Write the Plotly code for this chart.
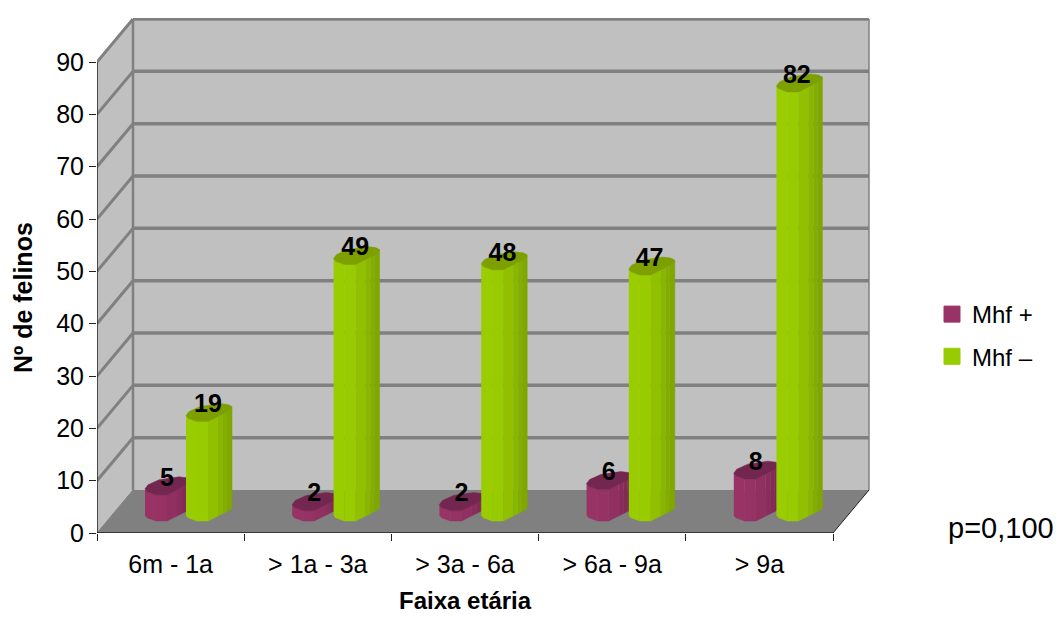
import numpy as np
import plotly.graph_objects as go

# Data
categories = ["6m - 1a", "> 1a - 3a", "> 3a - 6a", "> 6a - 9a", "> 9a"]
mhf_pos = [5, 2, 2, 6, 8]
mhf_neg = [19, 49, 48, 47, 82]
y_ticks = [0, 10, 20, 30, 40, 50, 60, 70, 80, 90]

# Pixel scales of the front plane
WIDTH, HEIGHT = 1056, 617
LEFT, RIGHT, TOP, BOTTOM = 97, 870, 18, 533
PX_PER_CAT = 147.2
PX_PER_UNIT = 5.233
X_MIN = -0.5
X_MAX = X_MIN + (RIGHT - LEFT) / PX_PER_CAT
Y_MAX = (BOTTOM - TOP) / PX_PER_UNIT
n = len(categories)

def ux(px):
    return px / PX_PER_CAT

def uy(px):
    return px / PX_PER_UNIT

# Oblique depth of the box
DX, DY = ux(36), uy(43)

# Column cross-section, in pixels from its left edge / lowest point
FRONT = [(0, 6), (2, 3.3), (11, 0), (22, 0), (44, 11), (46, 13)]
BACK = [(46, 15), (42, 17), (34, 18), (14, 15), (3, 10), (0, 6)]
STRIP_EDGES = [0, 11, 22, 32, 37, 41, 46]
BASE = uy(12)
front_x = [p[0] for p in FRONT]
front_y = [p[1] for p in FRONT]

def strip_polys(values, left_px, i0, i1, nudge):
    xs, ys = [], []
    a, b = STRIP_EDGES[i0], STRIP_EDGES[i1]
    pts = sorted({a, b, *[p for p in front_x if a < p < b]})
    low = [float(np.interp(p, front_x, front_y)) for p in pts]
    for c, v in enumerate(values):
        xs += [c + ux(left_px + c * nudge + p) for p in pts]
        ys += [BASE + uy(h) for h in low]
        xs += [c + ux(left_px + c * nudge + p) for p in reversed(pts)]
        ys += [BASE + v + uy(h) for h in reversed(low)]
        xs.append(None)
        ys.append(None)
    return xs, ys

def cap_polys(values, left_px, nudge):
    xs, ys = [], []
    for c, v in enumerate(values):
        for p, h in FRONT + BACK:
            xs.append(c + ux(left_px + c * nudge + p))
            ys.append(BASE + v + uy(h))
        xs.append(None)
        ys.append(None)
    return xs, ys

fig = go.Figure()

def add_series(name, values, left_px, nudge, strips, cap, swatch):
    for i, col in enumerate(strips):
        sx, sy = strip_polys(values, left_px, i, i + 1, nudge)
        fig.add_trace(go.Scatter(x=sx, y=sy, mode="lines", fill="toself", fillcolor=col,
                                 line=dict(color=col, width=0.5), hoverinfo="skip", showlegend=False))
    cx, cy = cap_polys(values, left_px, nudge)
    fig.add_trace(go.Scatter(x=cx, y=cy, mode="lines", fill="toself", fillcolor=cap,
                             line=dict(color=cap, width=0.5), hoverinfo="skip", showlegend=False))
    fig.add_trace(go.Scatter(x=[None], y=[None], mode="markers", name=name, legendgroup=name,
                             marker=dict(symbol="square", size=18, color=swatch,
                                         line=dict(color=swatch, width=1))))

PURPLE_LEFT, GREEN_LEFT = -25.6, 15.4
add_series("Mhf +", mhf_pos, PURPLE_LEFT, 0,
           ["#993366", "#973265", "#902F60", "#8A2D5C", "#822B57", "#7B2852"],
           "#732650", "#993366")
add_series("Mhf –", mhf_neg, GREEN_LEFT, 0.4,
           ["#9ACD00", "#99CC00", "#90C000", "#89B600", "#83AE00", "#7EA700"],
           "#7D9F00", "#99CC00")

# Value labels above each column
LABEL_LIFT = uy(15.5)
for values, left_px in ((mhf_pos, PURPLE_LEFT), (mhf_neg, GREEN_LEFT)):
    fig.add_trace(go.Scatter(
        x=[c + ux(left_px + 22) for c in range(n)],
        y=[BASE + v + LABEL_LIFT for v in values],
        mode="text", text=[str(v) for v in values], textposition="middle center",
        textfont=dict(family="Liberation Sans", size=25, color="black"),
        texttemplate="<b>%{text}</b>", hoverinfo="skip", showlegend=False, cliponaxis=False))

# Box walls, floor and gridlines
GRID = "#808080"
WALL = "#C0C0C0"
x0, x1 = X_MIN, X_MIN + n
shapes = []

def poly(pts, fill):
    d = "M " + " L ".join(f"{x},{y}" for x, y in pts) + " Z"
    shapes.append(dict(type="path", path=d, xref="x", yref="y", fillcolor=fill,
                       line=dict(width=0), layer="below"))

def seg(xa, ya, xb, yb, color, width):
    shapes.append(dict(type="line", x0=xa, y0=ya, x1=xb, y1=yb, xref="x", yref="y",
                       line=dict(color=color, width=width), layer="below"))

top = y_ticks[-1]
poly([(x0 + DX, DY), (x1 + DX, DY), (x1 + DX, top + DY), (x0 + DX, top + DY)], WALL)
poly([(x0, 0), (x0 + DX, DY), (x0 + DX, top + DY), (x0, top)], WALL)
poly([(x0, 0), (x1, 0), (x1 + DX, DY), (x0 + DX, DY)], GRID)
for t in y_ticks[1:]:
    seg(x0, t, x0 + DX, t + DY, GRID, 3)
    seg(x0 + DX, t + DY, x1 + DX, t + DY, GRID, 3.5)
seg(x0 + DX, DY, x0 + DX, top + DY, GRID, 2.5)
seg(x1 + DX, DY, x1 + DX, top + DY, GRID, 1.5)
seg(x1, 0, x1 + DX, DY, "#222222", 1)
seg(x0, 0, x0 + DX, DY, GRID, 1)
seg(x0, 0, x0, top, "#222222", 1.5)
seg(x0, 0, x1, 0, "#222222", 1.5)

def px_x(px):
    return (px - LEFT) / (RIGHT - LEFT)

def px_y(py):
    return (BOTTOM - py) / (BOTTOM - TOP)

fig.update_layout(
    width=WIDTH, height=HEIGHT,
    margin=dict(l=LEFT, r=WIDTH - RIGHT, t=TOP, b=HEIGHT - BOTTOM, pad=0),
    paper_bgcolor="white", plot_bgcolor="white",
    font=dict(family="Liberation Sans", color="black"),
    shapes=shapes,
    legend=dict(x=px_x(932), y=px_y(292), xanchor="left", yanchor="top",
                font=dict(size=24), tracegroupgap=8, bgcolor="rgba(0,0,0,0)", borderwidth=0),
    xaxis=dict(range=[X_MIN, X_MAX], tickmode="array", tickvals=list(range(n)), ticktext=categories,
               showgrid=False, zeroline=False, showline=False, ticks="", tickfont=dict(size=25),
               ticklabelstandoff=14,
               minor=dict(tickmode="array", tickvals=[X_MIN + i for i in range(n + 1)],
                          ticks="outside", ticklen=7, tickwidth=1, tickcolor="#222222", showgrid=False)),
    yaxis=dict(range=[0, Y_MAX], tickmode="array", tickvals=y_ticks,
               showgrid=False, zeroline=False, showline=False,
               ticks="outside", ticklen=7, tickwidth=1, tickcolor="#222222", tickfont=dict(size=25)),
    annotations=[
        dict(text="p=0,100", xref="paper", yref="paper", x=px_x(946), y=px_y(528),
             xanchor="left", yanchor="middle", showarrow=False, font=dict(size=29)),
        dict(text="<b>Faixa etária</b>", xref="paper", yref="paper", x=px_x(465), y=px_y(616),
             xanchor="center", yanchor="bottom", showarrow=False, font=dict(size=24)),
        dict(text="<b>Nº de felinos</b>", xref="paper", yref="paper", x=px_x(23), y=px_y(298),
             xanchor="center", yanchor="middle", showarrow=False, textangle=-90, font=dict(size=25)),
    ],
)

fig.write_html("out.html", config=dict(displayModeBar=False))
